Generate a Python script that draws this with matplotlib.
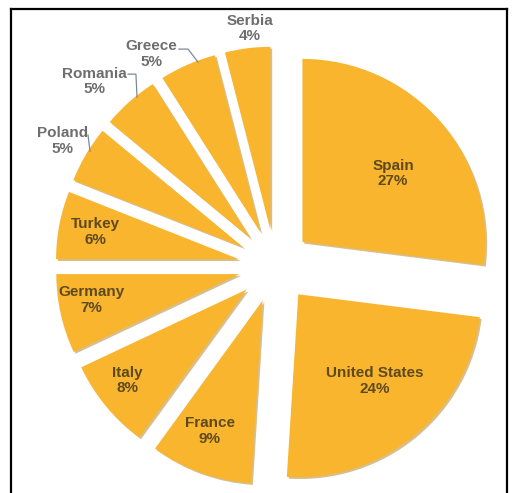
import matplotlib
matplotlib.use('Agg')
import matplotlib.pyplot as plt
import numpy as np
from matplotlib.lines import Line2D

# data, clockwise from 12 o'clock
countries = ['Spain', 'United States', 'France', 'Italy', 'Germany',
             'Turkey', 'Poland', 'Romania', 'Greece', 'Serbia']
shares = [27, 24, 9, 8, 7, 6, 5, 5, 5, 4]

# label placement (radius from pie centre, angle nudge in degrees)
label_r = [0.82, 0.83, 0.97, 1.02, 1.02, 1.0, 1.35, 1.41, 1.34, 1.305]
label_dang = [-3.3, 1.4, -1.7, -1.8, -2.1, 0.0, 0.1, 2.9, 6.8, -1.2]
outside = ['Poland', 'Romania', 'Greece', 'Serbia']

# leader lines for outside labels
leaders = {
    'Greece': ([-0.525, -0.475, -0.421], [1.186, 1.186, 1.115]),
    'Romania': ([-0.803, -0.760, -0.754], [1.049, 1.049, 0.923]),
    'Poland': ([-1.022, -1.011], [0.716, 0.628]),
}

gold = '#F9B52D'
fnt = ['Liberation Sans Narrow', 'Liberation Sans', 'DejaVu Sans']

fig = plt.figure(figsize=(5.13, 4.93), dpi=100)
ax = fig.add_axes([0, 0, 1, 1])

wedges, _ = ax.pie(shares, startangle=90, counterclock=False,
                   explode=[0.2] * len(shares), colors=[gold] * len(shares),
                   wedgeprops=dict(linewidth=0),
                   shadow={'ox': 0.007, 'oy': -0.007, 'shade': 0.3})

ax.set_xlim(-1.503, 1.301)
ax.set_ylim(-1.240, 1.454)
ax.set_aspect('equal')
ax.axis('off')

for w, name, pct, r, da in zip(wedges, countries, shares, label_r, label_dang):
    ang = np.deg2rad((w.theta1 + w.theta2) / 2 + da)
    x, y = r * np.cos(ang), r * np.sin(ang)
    col = '#6E6E6E' if name in outside else '#5E4A1E'
    ax.text(x, y, '%s\n%d%%' % (name, pct), ha='center', va='center',
            fontsize=11, fontweight='bold', color=col, family=fnt,
            linespacing=1.15)

for name, (lx, ly) in leaders.items():
    ax.plot(lx, ly, color='#7A8A9A', lw=0.9)

# frame around the picture
for xs, ys in [([0.021, 0.021], [0.0, 0.982]),
               ([0.021, 0.988], [0.982, 0.982]),
               ([0.988, 0.988], [0.982, 0.0])]:
    fig.add_artist(Line2D(xs, ys, color='black', lw=1.6,
                          transform=fig.transFigure))

plt.savefig('out.png', dpi=100)
